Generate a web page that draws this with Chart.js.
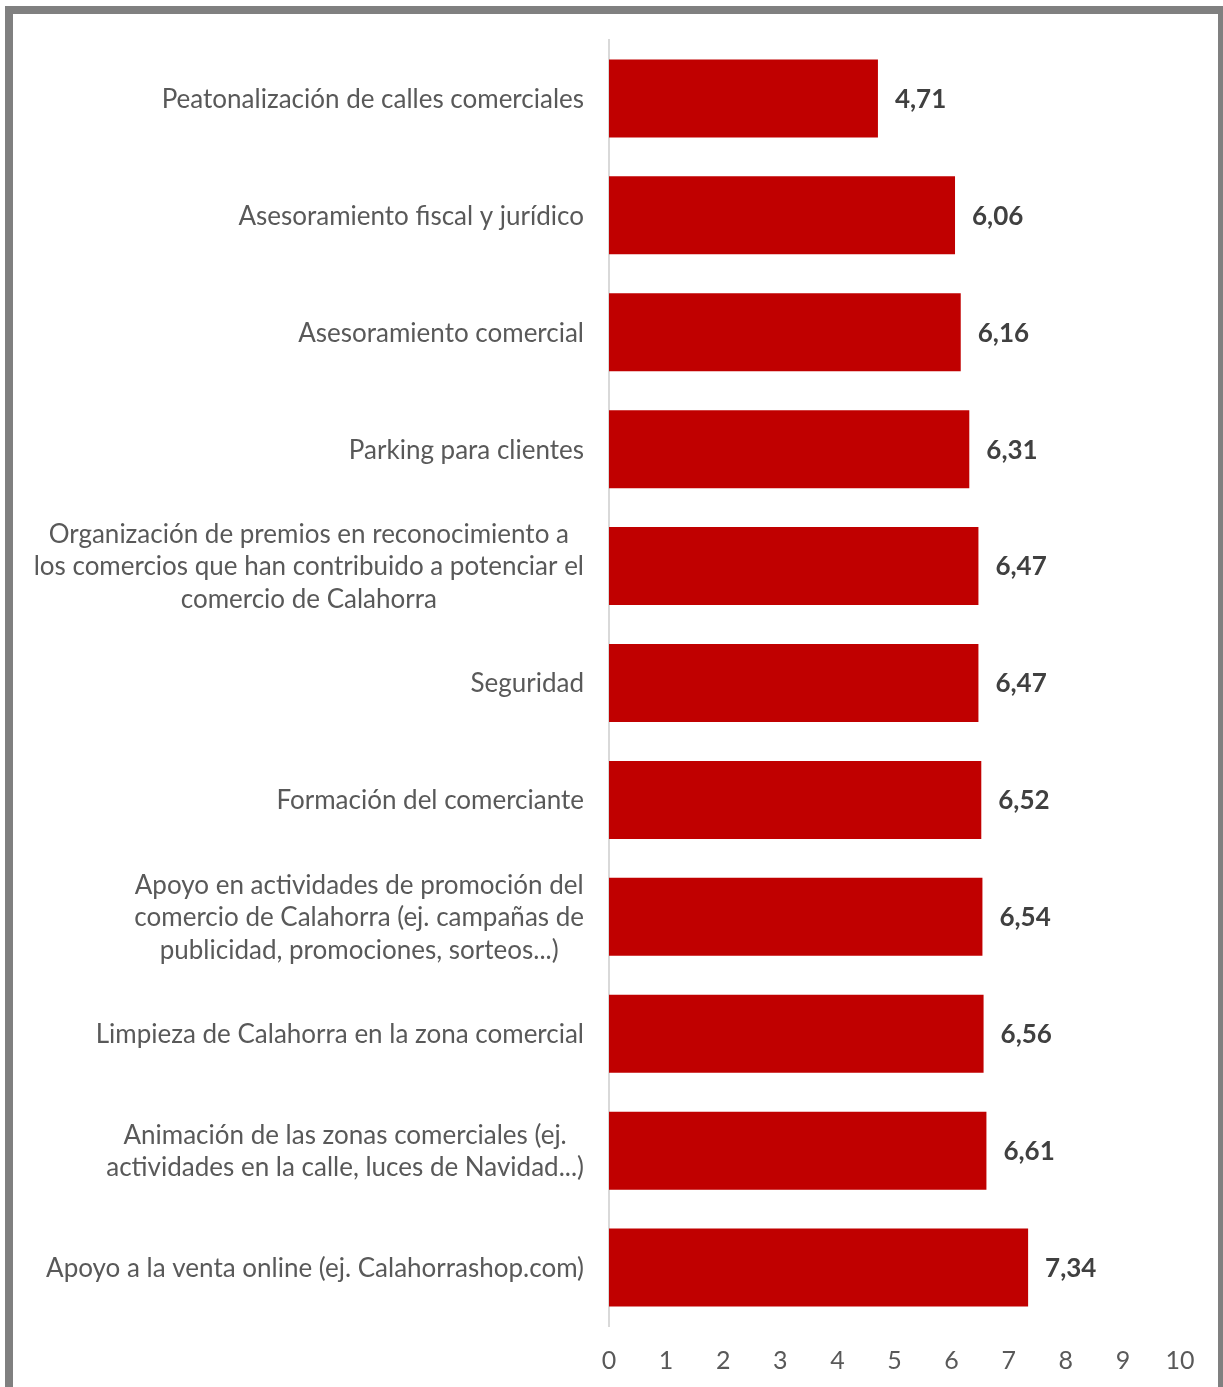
<!DOCTYPE html>
<html>
<head>
<meta charset="utf-8">
<script src="https://cdn.jsdelivr.net/npm/chart.js@4.4.1/dist/chart.umd.min.js"></script>
<style>
  html, body { margin: 0; padding: 0; background: #fff; }
  #wrap { width: 1223px; height: 1387px; position: relative; }
</style>
</head>
<body>
<div id="wrap"><canvas id="chart" width="1223" height="1387"></canvas></div>
<script>
// Valoración de medidas para el comercio (escala 0-10)
const categorias = [
    ['Peatonalización de calles comerciales'],
    ['Asesoramiento fiscal y jurídico'],
    ['Asesoramiento comercial'],
    ['Parking para clientes'],
    ['Organización de premios en reconocimiento a', 'los comercios que han contribuido a potenciar el', 'comercio de Calahorra'],
    ['Seguridad'],
    ['Formación del comerciante'],
    ['Apoyo en actividades de promoción del', 'comercio de Calahorra (ej. campañas de', 'publicidad, promociones, sorteos...)'],
    ['Limpieza de Calahorra en la zona comercial'],
    ['Animación de las zonas comerciales (ej.', 'actividades en la calle, luces de Navidad...)'],
    ['Apoyo a la venta online (ej. Calahorrashop.com)']
];
const valores = [4.71, 6.06, 6.16, 6.31, 6.47, 6.47, 6.52, 6.54, 6.56, 6.61, 7.34];
const ejeX = { min: 0, max: 10, paso: 1 };

const FUENTE = 'Lato, "Open Sans", sans-serif';
const COLOR_TEXTO = '#595959';

// Marco gris alrededor del gráfico
const marco = {
    id: 'marco',
    beforeDraw(chart) {
        const ctx = chart.ctx;
        ctx.save();
        ctx.fillStyle = '#fff';
        ctx.fillRect(0, 0, chart.width, chart.height);
        ctx.strokeStyle = '#808080';
        ctx.lineWidth = 8;
        ctx.strokeRect(9, 10, 1213, 1420);
        ctx.restore();
    }
};

// Etiquetas de categorías: bloque alineado a la derecha, líneas centradas entre sí
const etiquetasY = {
    id: 'etiquetasY',
    afterDraw(chart) {
        const ctx = chart.ctx;
        const yScale = chart.scales.y;
        const derecha = chart.chartArea.left - 25;
        const interlineado = 32.5;
        ctx.save();
        ctx.font = '26px ' + FUENTE;
        ctx.fillStyle = COLOR_TEXTO;
        ctx.textAlign = 'center';
        ctx.textBaseline = 'middle';
        categorias.forEach((lineas, i) => {
            const y = yScale.getPixelForValue(i) + 1;
            const ancho = Math.max(...lineas.map(l => ctx.measureText(l).width));
            const cx = derecha - ancho / 2;
            const y0 = y - (lineas.length - 1) * interlineado / 2;
            lineas.forEach((l, j) => ctx.fillText(l, cx, y0 + j * interlineado));
        });
        ctx.restore();
    }
};

// Valor al final de cada barra
const valoresBarra = {
    id: 'valoresBarra',
    afterDatasetsDraw(chart) {
        const ctx = chart.ctx;
        const meta = chart.getDatasetMeta(0);
        ctx.save();
        ctx.font = 'bold 26px ' + FUENTE;
        ctx.fillStyle = '#404040';
        ctx.textAlign = 'left';
        ctx.textBaseline = 'middle';
        meta.data.forEach((bar, i) => {
            ctx.fillText(valores[i].toFixed(2).replace('.', ','), bar.x + 17, bar.y + 1);
        });
        ctx.restore();
    }
};

const ctx = document.getElementById('chart').getContext('2d');
new Chart(ctx, {
    type: 'bar',
    data: {
        labels: categorias,
        datasets: [{
            data: valores,
            backgroundColor: '#C00000',
            borderWidth: 0,
            barPercentage: 0.667,
            categoryPercentage: 1
        }]
    },
    options: {
        indexAxis: 'y',
        responsive: false,
        animation: false,
        layout: { padding: { top: 40, right: 43, bottom: 0, left: 0 } },
        plugins: {
            legend: { display: false },
            tooltip: { enabled: false }
        },
        scales: {
            x: {
                min: ejeX.min,
                max: ejeX.max,
                ticks: {
                    stepSize: ejeX.paso,
                    color: COLOR_TEXTO,
                    font: { family: FUENTE, size: 25 },
                    padding: 12
                },
                grid: { display: false },
                border: { display: false },
                afterFit(scale) { scale.height = 61; }
            },
            y: {
                ticks: { display: false },
                grid: { display: false },
                border: { display: true, color: '#d9d9d9', width: 2 },
                afterFit(scale) { scale.width = 609; }
            }
        }
    },
    plugins: [marco, etiquetasY, valoresBarra]
});
</script>
</body>
</html>
